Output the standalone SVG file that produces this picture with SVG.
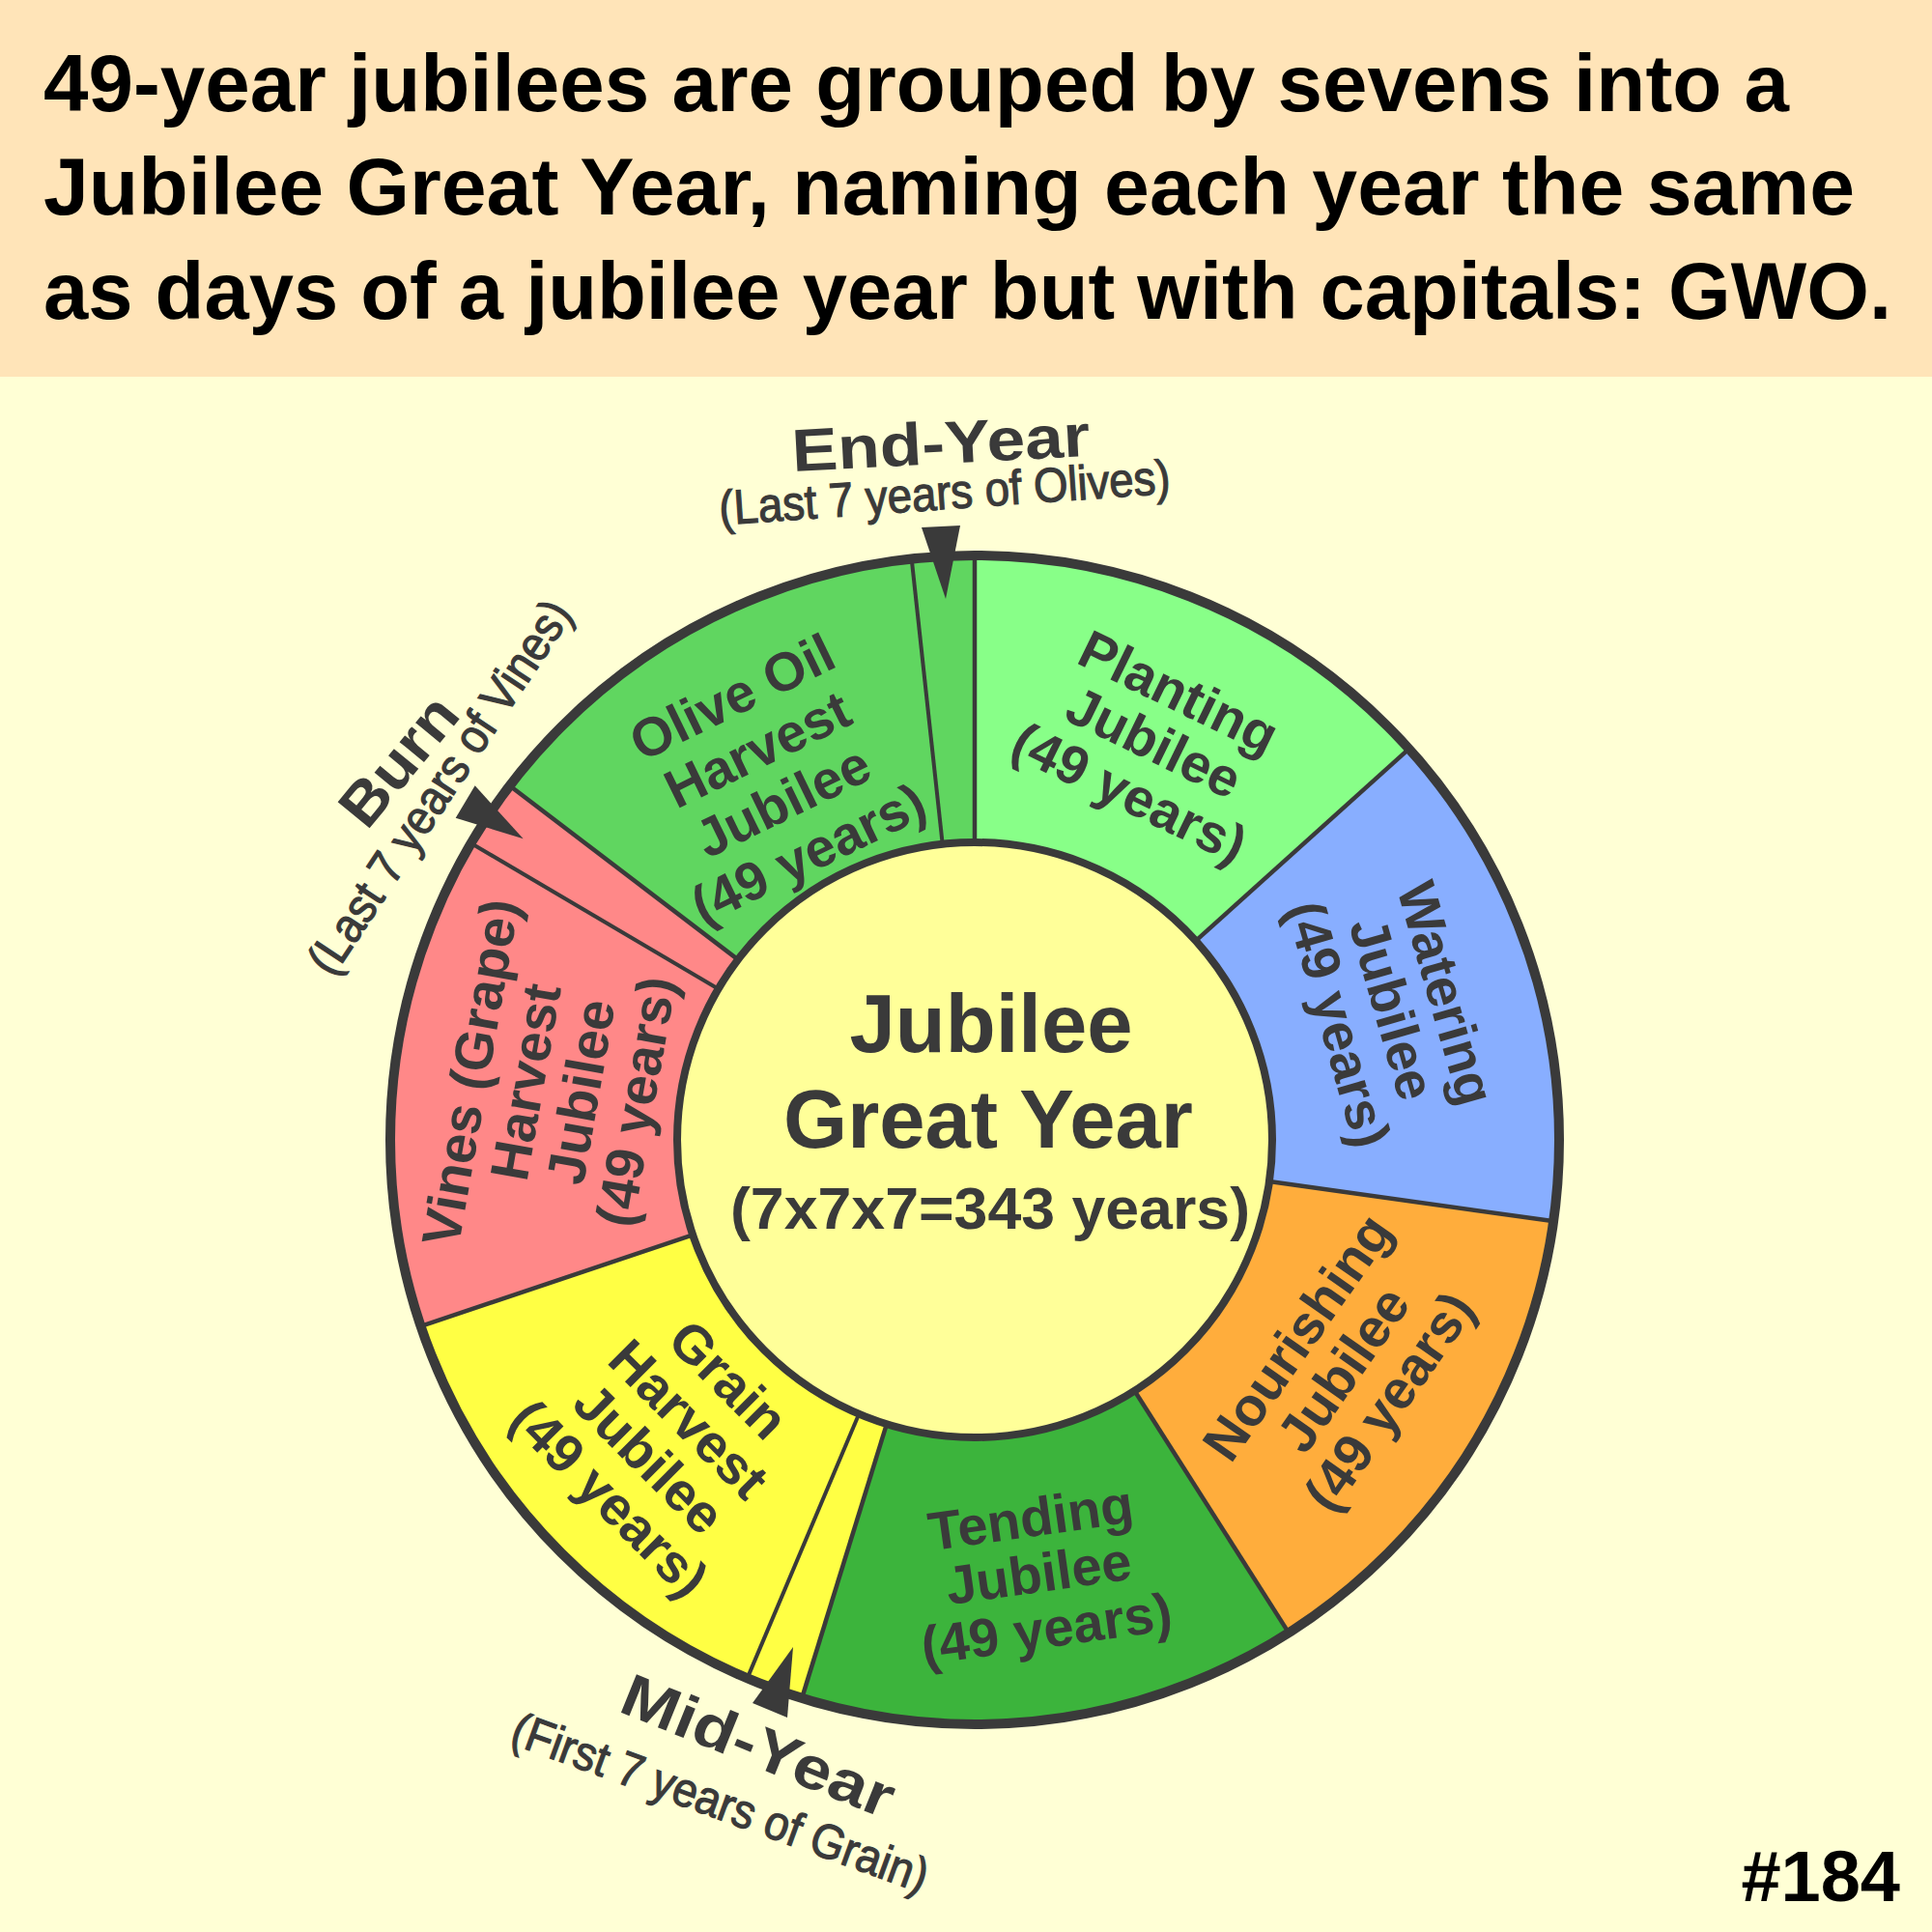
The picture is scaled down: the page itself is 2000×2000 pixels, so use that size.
<svg xmlns="http://www.w3.org/2000/svg" width="2000" height="2000" viewBox="0 0 2000 2000">
<style>
text{font-family:"Liberation Sans",Arial,Helvetica,sans-serif}
.hdr{font-weight:bold;font-size:83px;fill:#000}
.lbl{font-weight:bold;font-size:56px;fill:#3a3a3a;text-anchor:middle}
.big{font-weight:bold;font-size:85px;fill:#3a3a3a;text-anchor:middle}
.mark{font-weight:bold;font-size:62px;fill:#3a3a3a;text-anchor:middle}
.note{font-weight:normal;font-size:50px;fill:#3a3a3a;stroke:#3a3a3a;stroke-width:1.2;text-anchor:middle}
.div{stroke:#3a3a3a;stroke-width:4.5;fill:none}
.strip{stroke:#3a3a3a;stroke-width:4;fill:none}
.arrow{fill:#3a3a3a}
</style>
<rect x="0" y="0" width="2000" height="2000" fill="#FFFFD5"/>
<rect x="0" y="0" width="2000" height="390" fill="#FFE4B8"/>
<g id="title">
<text class="hdr" x="45" y="115" textLength="1807" lengthAdjust="spacingAndGlyphs">49-year jubilees are grouped by sevens into a</text>
<text class="hdr" x="45" y="222" textLength="1875" lengthAdjust="spacingAndGlyphs">Jubilee Great Year, naming each year the same</text>
<text class="hdr" x="45" y="330" textLength="1913" lengthAdjust="spacingAndGlyphs">as days of a jubilee year but with capitals: GWO.</text>
</g>
<g id="planting"><path d="M1009,1180 L1009,576 A604,604 0 0 1 1457.8,775.9 Z" fill="#88FF88"/>
<g transform="translate(1195,768) rotate(26)"><text class="lbl" y="-38">Planting</text><text class="lbl" y="20">Jubilee</text><text class="lbl" y="78">(49 years)</text></g></g>
<g id="watering"><path d="M1009,1180 L1457.8,775.9 A604,604 0 0 1 1607.1,1264.1 Z" fill="#88AEFF"/>
<g transform="translate(1442,1044) rotate(74)"><text class="lbl" y="-38">Watering</text><text class="lbl" y="20">Jubilee</text><text class="lbl" y="78">(49 years)</text></g></g>
<g id="nourishing"><path d="M1009,1180 L1607.1,1264.1 A604,604 0 0 1 1333.5,1689.4 Z" fill="#FFAD3C"/>
<g transform="translate(1390,1417) rotate(-55)"><text class="lbl" y="-38">Nourishing</text><text class="lbl" y="20">Jubilee</text><text class="lbl" y="78">(49 years)</text></g></g>
<g id="tending"><path d="M1009,1180 L1333.5,1689.4 A604,604 0 0 1 830.4,1757 Z" fill="#3CB43C"/>
<g transform="translate(1075,1628) rotate(-8)"><text class="lbl" y="-38">Tending</text><text class="lbl" y="20">Jubilee</text><text class="lbl" y="78">(49 years)</text></g></g>
<g id="grain"><path d="M1009,1180 L830.4,1757 A604,604 0 0 1 436.5,1372.7 Z" fill="#FFFF44"/>
<g transform="translate(693,1489) rotate(45)"><text class="lbl" y="-67">Grain</text><text class="lbl" y="-9">Harvest</text><text class="lbl" y="49">Jubilee</text><text class="lbl" y="107">(49 years)</text></g></g>
<g id="vines"><path d="M1009,1180 L436.5,1372.7 A604,604 0 0 1 528.5,814 Z" fill="#FF8888"/>
<g transform="translate(572,1125) rotate(-80)"><text class="lbl" y="-67">Vines (Grape)</text><text class="lbl" y="-9">Harvest</text><text class="lbl" y="49">Jubilee</text><text class="lbl" y="107">(49 years)</text></g></g>
<g id="olive"><path d="M1009,1180 L528.5,814 A604,604 0 0 1 1009,576 Z" fill="#60D660"/>
<g transform="translate(797,802) rotate(-26)"><text class="lbl" y="-70">Olive Oil</text><text class="lbl" y="-10">Harvest</text><text class="lbl" y="50">Jubilee</text><text class="lbl" y="110">(49 years)</text></g></g>
<g id="connectors">
<line class="div" x1="1009" y1="872" x2="1009" y2="576"/>
<line class="div" x1="1237.9" y1="973.9" x2="1457.8" y2="775.9"/>
<line class="div" x1="1314" y1="1222.9" x2="1607.1" y2="1264.1"/>
<line class="div" x1="1174.5" y1="1439.8" x2="1333.5" y2="1689.4"/>
<line class="div" x1="917.9" y1="1474.2" x2="830.4" y2="1757"/>
<line class="div" x1="717.1" y1="1278.3" x2="436.5" y2="1372.7"/>
<line class="div" x1="764" y1="993.4" x2="528.5" y2="814"/>
<line class="strip" x1="975.7" y1="873.8" x2="943.8" y2="579.5"/>
<line class="strip" x1="889.2" y1="1463.7" x2="774" y2="1736.4"/>
<line class="strip" x1="743.6" y1="1023.7" x2="488.6" y2="873.5"/>
<circle cx="1009" cy="1180" r="605" fill="none" stroke="#3a3a3a" stroke-width="10"/>
<polygon class="arrow" points="954,546 994,544 979,620"/>
<polygon class="arrow" points="471.7,846.7 491.7,813.3 541.7,868.3"/>
<polygon class="arrow" points="779,1763 815,1778 821,1705"/>
</g>
<g id="center">
<circle cx="1009" cy="1180" r="308" fill="#FFFF99" stroke="#3a3a3a" stroke-width="8"/>
<text class="big" x="1026" y="1089">Jubilee</text>
<text class="big" x="1023" y="1188">Great Year</text>
<text class="mark" x="1025" y="1272" textLength="538" lengthAdjust="spacingAndGlyphs">(7x7x7=343 years)</text>
</g>
<g id="end-year">
<text class="mark" transform="translate(975,480) rotate(-3)" textLength="309" lengthAdjust="spacingAndGlyphs">End-Year</text>
<text class="note" transform="translate(979,527) rotate(-4)" textLength="468" lengthAdjust="spacingAndGlyphs">(Last 7 years of Olives)</text>
</g>
<g id="burn">
<text class="mark" transform="translate(429,801) rotate(-50.5)" font-size="64" textLength="155" lengthAdjust="spacingAndGlyphs">Burn</text>
<text class="note" transform="translate(469,824) rotate(-56.5)" textLength="452" lengthAdjust="spacingAndGlyphs">(Last 7 years of Vines)</text>
</g>
<g id="mid-year">
<text class="mark" transform="translate(777,1827) rotate(22)" textLength="299" lengthAdjust="spacingAndGlyphs">Mid-Year</text>
<text class="note" transform="translate(740,1882) rotate(20)" textLength="455" lengthAdjust="spacingAndGlyphs">(First 7 years of Grain)</text>
</g>
<text id="num" x="1967" y="1968" font-weight="bold" font-size="74" fill="#000" text-anchor="end">#184</text>
</svg>
